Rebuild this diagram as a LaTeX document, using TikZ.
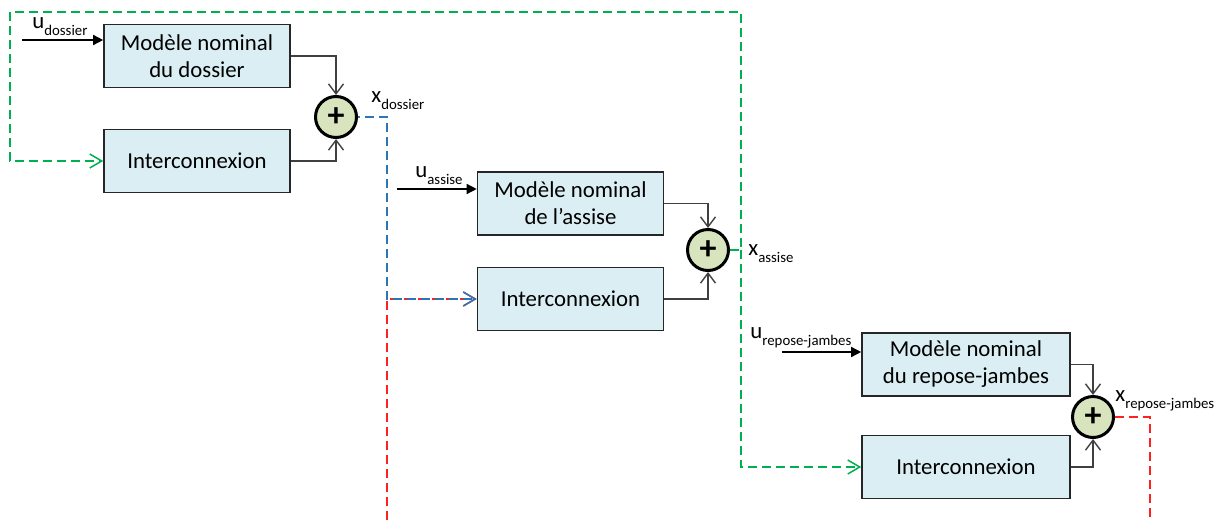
\documentclass[tikz,border=0pt]{standalone}
\usepackage{fontspec}
\setmainfont{Carlito}
\usetikzlibrary{arrows.meta}
\definecolor{boxblue}{HTML}{DAEEF3}
\definecolor{sumgreen}{HTML}{D7E4BD}
\definecolor{fbgreen}{HTML}{00B050}
\definecolor{fbblue}{HTML}{2E75B6}
\definecolor{fbred}{HTML}{FF2020}
\newcommand{\lbl}[2]{#1\raisebox{-3.8pt}{\fontsize{7.4}{8}\selectfont #2}}

\begin{document}
\begin{tikzpicture}[x=0.5pt,y=-0.5pt]
\tikzset{blk/.style={draw=black!85,line width=0.8pt,fill=boxblue,minimum width=93pt,minimum height=31.5pt,inner sep=0pt,align=center,font=\fontsize{11.4}{13.5}\selectfont},
sum/.style={circle,draw,line width=1.5pt,fill=sumgreen,minimum size=20.5pt,inner sep=0pt,font=\fontsize{17}{17}\selectfont\bfseries},
lab/.style={inner sep=0pt,anchor=base west,font=\fontsize{11.4}{13.5}\selectfont},
con/.style={draw=black!75,line width=0.7pt,-{Straight Barb[length=5pt,width=7.5pt]}},
inp/.style={line width=0.7pt,-{Triangle[length=5pt,width=5pt]}},
fb/.style={line width=0.75pt,dash pattern=on 4.5pt off 2.5pt,-{Straight Barb[length=6pt,width=7pt]}}}
\useasboundingbox (0,0) rectangle (1219,520);

% dossier
\node[blk] (m1) at (197,56) {Modèle nominal\\du dossier};
\node[blk] (i1) at (197,161) {Interconnexion};
\node[sum] (s1) at (336,117) {+};
% assise
\node[blk] (m2) at (570.5,203.5) {Modèle nominal\\de l’assise};
\node[blk] (i2) at (570.5,299) {Interconnexion};
\node[sum] (s2) at (708,250) {+};
% repose-jambes
\node[blk,minimum width=104pt] (m3) at (966,364.5) {Modèle nominal\\du repose-jambes};
\node[blk,minimum width=104pt] (i3) at (966,467) {Interconnexion};
\node[sum] (s3) at (1093,417) {+};

\node[lab] (lu1) at (32,28) {\lbl{u}{dossier}};
\node[lab] (lu2) at (415,177) {\lbl{u}{assise}};
\node[lab] (lu3) at (750,338) {\lbl{u}{repose-jambes}};
\node[lab] (lx1) at (371,102) {\lbl{x}{dossier}};
\node[lab] (lx2) at (748,255) {\lbl{x}{assise}};
\node[lab] (lx3) at (1115,401) {\lbl{x}{repose-jambes}};

\coordinate (u1) at (22,40);
\coordinate (u2) at (397,189);
\coordinate (u3) at (782,352);
\coordinate (b1) at (387,117);
\coordinate (g1) at (741,250);
\coordinate (g2) at (741,12);
\coordinate (g3) at (10,12);
\coordinate (r1) at (1150,520);
\coordinate (r2) at (387,520);

\draw[inp] (u1) -- (u1 -| m1.west);
\draw[inp] (u2) -- (u2 -| m2.west);
\draw[inp] (u3) -- (u3 -| m3.west);

\draw[con] (m1.east) -| (s1.north);
\draw[con] (i1.east) -| (s1.south);
\draw[con] (m2.east) -| (s2.north);
\draw[con] (i2.east) -| (s2.south);
\draw[con] (m3.east) -| (s3.north);
\draw[con] (i3.east) -| (s3.south);

\draw[fb,fbred] (r2) |- (i2.west);
\draw[fb,fbblue,dash phase=3.5pt] (s1.east) -- (b1) |- (i2.west);
\draw[fb,fbred,-] (s3.east) -| (r1);
\draw[fb,fbgreen,-] (s2.east) -- (g1) -- (g2) -- (g3);
\draw[fb,fbgreen] (g3) |- (i1.west);
\draw[fb,fbgreen] (g1) |- (i3.west);
\end{tikzpicture}
\end{document}
